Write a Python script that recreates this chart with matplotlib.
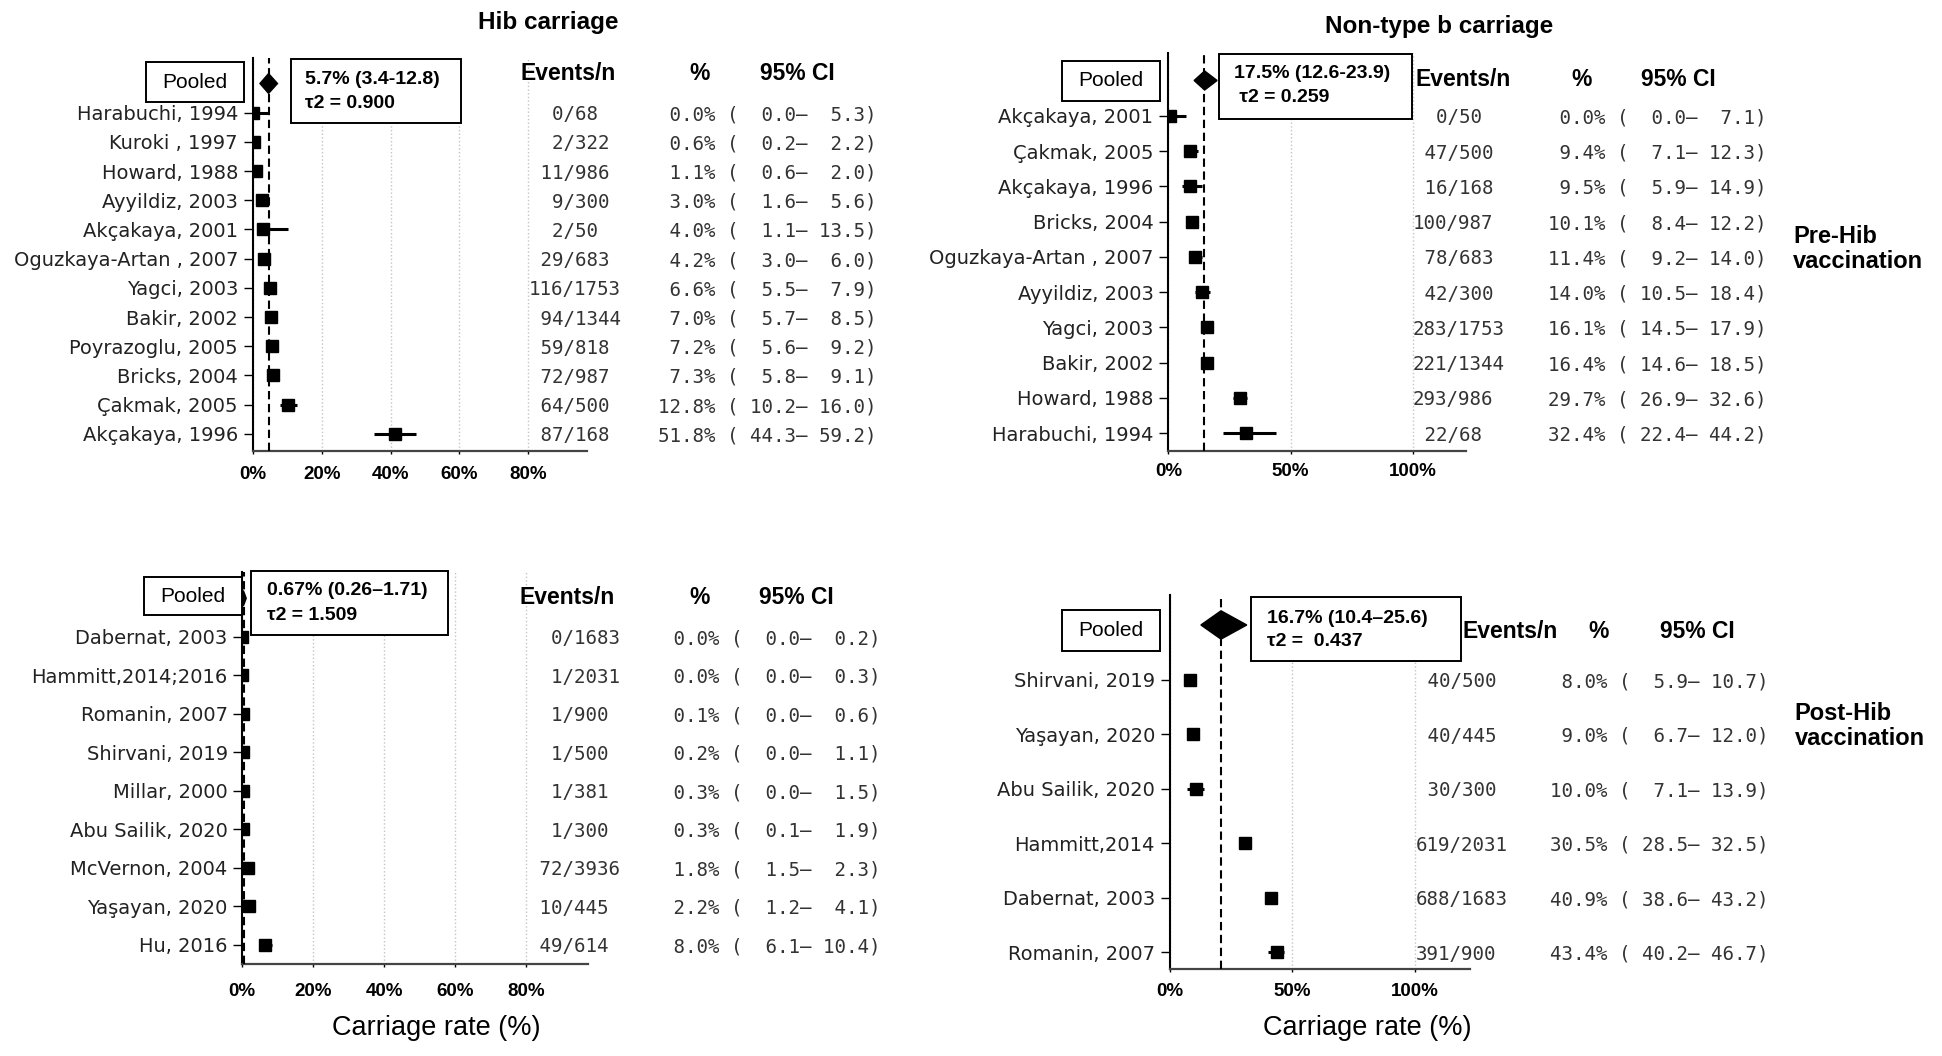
import matplotlib
matplotlib.use("Agg")
import matplotlib.pyplot as plt
from matplotlib.patches import Rectangle, Polygon
from matplotlib.transforms import blended_transform_factory
import numpy as np

# ---------------- data ----------------
# Panel A: Hib carriage, pre-Hib vaccination
hib_pre_studies = ["Harabuchi, 1994", "Kuroki , 1997", "Howard, 1988", "Ayyildiz, 2003",
                   "Akçakaya, 2001", "Oguzkaya-Artan , 2007", "Yagci, 2003", "Bakir, 2002",
                   "Poyrazoglu, 2005", "Bricks, 2004", "Çakmak, 2005", "Akçakaya, 1996"]
hib_pre_events = [0, 2, 11, 9, 2, 29, 116, 94, 59, 72, 64, 87]
hib_pre_n = [68, 322, 986, 300, 50, 683, 1753, 1344, 818, 987, 500, 168]
hib_pre_pct = [0.0, 0.6, 1.1, 3.0, 4.0, 4.2, 6.6, 7.0, 7.2, 7.3, 12.8, 51.8]
hib_pre_lo = [0.0, 0.2, 0.6, 1.6, 1.1, 3.0, 5.5, 5.7, 5.6, 5.8, 10.2, 44.3]
hib_pre_hi = [5.3, 2.2, 2.0, 5.6, 13.5, 6.0, 7.9, 8.5, 9.2, 9.1, 16.0, 59.2]
# positions of the marks as drawn on the axis
hib_pre_mark = [0.0, 0.4, 0.9, 2.6, 2.8, 3.2, 5.0, 5.2, 5.5, 5.7, 10.1, 41.4]
hib_pre_mark_lo = [0.0, 0.2, 0.5, 1.2, 1.0, 2.3, 4.3, 4.4, 4.3, 4.5, 7.9, 35.3]
hib_pre_mark_hi = [4.4, 1.7, 1.6, 4.4, 10.2, 4.7, 6.2, 6.6, 7.1, 7.1, 12.7, 47.3]
hib_pre_pooled_text = "5.7% (3.4-12.8)"
hib_pre_tau_text = "τ2 = 0.900"
hib_pre_pooled_mark = [2.0, 4.5, 7.1]   # lo, centre, hi of the diamond
hib_pre_refline = 4.6

# Panel B: non-type b carriage, pre-Hib vaccination
ntb_pre_studies = ["Akçakaya, 2001", "Çakmak, 2005", "Akçakaya, 1996", "Bricks, 2004",
                   "Oguzkaya-Artan , 2007", "Ayyildiz, 2003", "Yagci, 2003", "Bakir, 2002",
                   "Howard, 1988", "Harabuchi, 1994"]
ntb_pre_events = [0, 47, 16, 100, 78, 42, 283, 221, 293, 22]
ntb_pre_n = [50, 500, 168, 987, 683, 300, 1753, 1344, 986, 68]
ntb_pre_pct = [0.0, 9.4, 9.5, 10.1, 11.4, 14.0, 16.1, 16.4, 29.7, 32.4]
ntb_pre_lo = [0.0, 7.1, 5.9, 8.4, 9.2, 10.5, 14.5, 14.6, 26.9, 22.4]
ntb_pre_hi = [7.1, 12.3, 14.9, 12.2, 14.0, 18.4, 17.9, 18.5, 32.6, 44.2]
ntb_pre_mark = [0.5, 8.8, 9.0, 9.8, 10.8, 13.8, 15.8, 15.8, 29.2, 31.8]
ntb_pre_mark_lo = [0.0, 7.0, 5.7, 8.3, 9.0, 10.8, 14.2, 14.3, 26.5, 22.2]
ntb_pre_mark_hi = [7.0, 12.0, 13.8, 11.8, 13.6, 17.1, 17.5, 18.1, 32.0, 44.1]
ntb_pre_pooled_text = "17.5% (12.6-23.9)"
ntb_pre_tau_text = " τ2 = 0.259"
ntb_pre_pooled_mark = [10.5, 14.8, 19.9]
ntb_pre_refline = 14.6

# Panel C: Hib carriage, post-Hib vaccination
hib_post_studies = ["Dabernat, 2003", "Hammitt,2014;2016", "Romanin, 2007", "Shirvani, 2019",
                    "Millar, 2000", "Abu Sailik, 2020", "McVernon, 2004", "Yaşayan, 2020",
                    "Hu, 2016"]
hib_post_events = [0, 1, 1, 1, 1, 1, 72, 10, 49]
hib_post_n = [1683, 2031, 900, 500, 381, 300, 3936, 445, 614]
hib_post_pct = [0.0, 0.0, 0.1, 0.2, 0.3, 0.3, 1.8, 2.2, 8.0]
hib_post_lo = [0.0, 0.0, 0.0, 0.0, 0.0, 0.1, 1.5, 1.2, 6.1]
hib_post_hi = [0.2, 0.3, 0.6, 1.1, 1.5, 1.9, 2.3, 4.1, 10.4]
hib_post_mark = [0.0, 0.0, 0.1, 0.2, 0.2, 0.3, 1.6, 2.0, 6.5]
hib_post_mark_lo = [0.0, 0.0, 0.0, 0.0, 0.0, 0.1, 1.3, 1.0, 5.0]
hib_post_mark_hi = [0.2, 0.3, 0.5, 0.9, 1.2, 1.6, 2.0, 3.4, 8.5]
hib_post_pooled_text = "0.67% (0.26–1.71)"
hib_post_tau_text = "τ2 = 1.509"
hib_post_pooled_mark = [-0.5, 0.3, 1.1]
hib_post_refline = 0.6

# Panel D: non-type b carriage, post-Hib vaccination
ntb_post_studies = ["Shirvani, 2019", "Yaşayan, 2020", "Abu Sailik, 2020", "Hammitt,2014",
                    "Dabernat, 2003", "Romanin, 2007"]
ntb_post_events = [40, 40, 30, 619, 688, 391]
ntb_post_n = [500, 445, 300, 2031, 1683, 900]
ntb_post_pct = [8.0, 9.0, 10.0, 30.5, 40.9, 43.4]
ntb_post_lo = [5.9, 6.7, 7.1, 28.5, 38.6, 40.2]
ntb_post_hi = [10.7, 12.0, 13.9, 32.5, 43.2, 46.7]
ntb_post_mark = [8.5, 9.6, 10.6, 30.7, 41.3, 43.7]
ntb_post_mark_lo = [6.3, 7.0, 7.3, 28.7, 39.0, 40.3]
ntb_post_mark_hi = [10.8, 12.0, 14.1, 32.6, 43.3, 46.8]
ntb_post_pooled_text = "16.7% (10.4–25.6)"
ntb_post_tau_text = "τ2 =  0.437"
ntb_post_pooled_mark = [12.8, 21.0, 31.5]
ntb_post_refline = 20.9

left_ticks = [0, 20, 40, 60, 80]
left_ticklabels = ["0%", "20%", "40%", "60%", "80%"]
right_ticks = [0, 50, 100]
right_ticklabels = ["0%", "50%", "100%"]

# ---------------- figure ----------------
W, H = 1942, 1056
fig = plt.figure(figsize=(W / 100, H / 100), dpi=100)
fig.patch.set_facecolor("white")

SANS = "Liberation Sans"
MONO = "DejaVu Sans Mono"
LAB = "DejaVu Sans"


def fx(p):
    return p / W


def fy(p):
    return 1 - p / H


def box(x0, y0, x1, y1):
    r = Rectangle((fx(x0), fy(y1)), (x1 - x0) / W, (y1 - y0) / H,
                  transform=fig.transFigure, facecolor="white",
                  edgecolor="black", lw=1.4, zorder=5)
    fig.add_artist(r)


def panel(L, studies, events, n, pct, lo, hi, mark, mlo, mhi,
          ptext, ttext, pmark, refline, ticks, ticklabels):
    x0, y0, x1, y1 = L["ax"]
    ax = fig.add_axes([fx(x0), fy(y1), (x1 - x0) / W, (y1 - y0) / H])
    rows = np.arange(1, len(studies) + 1)
    ax.hlines(rows, mlo, mhi, color="black", lw=2.2, zorder=3)
    ax.plot(mark, rows, "s", color="black", ms=8.2, zorder=4)
    lo_d, c_d, hi_d = pmark
    h = L["dh"]
    ax.add_patch(Polygon([(lo_d, 0), (c_d, -h), (hi_d, 0), (c_d, h)],
                         closed=True, facecolor="black", edgecolor="black", zorder=4))
    ax.axvline(refline, color="black", ls=(0, (4, 2.2)), lw=1.5, zorder=3)
    ax.set_xlim(*L["xlim"])
    ax.set_ylim(*L["ylim"])
    ax.set_yticks(rows)
    ax.set_yticklabels(studies, family=LAB, fontsize=14, color="#222222")
    ax.set_xticks(ticks)
    ax.set_xticklabels(ticklabels, family=SANS, fontweight="bold", fontsize=13.5)
    ax.grid(axis="x", ls=":", color="#c4c4c4", lw=1.0, zorder=0)
    ax.set_axisbelow(True)
    for s in ("top", "right"):
        ax.spines[s].set_visible(False)
    ax.spines["left"].set_color("black")
    ax.spines["left"].set_linewidth(1.5)
    ax.spines["bottom"].set_color("#444444")
    ax.spines["bottom"].set_linewidth(1.6)
    ax.tick_params(axis="y", length=6.5, width=1.0, pad=4)
    ax.tick_params(axis="x", length=2.5, width=1.0, pad=L["xpad"])

    trans = blended_transform_factory(fig.transFigure, ax.transData)
    for i, r in enumerate(rows):
        ax.text(fx(L["ev_x"]), r, f"{events[i]:>3}/{n[i]}", transform=trans,
                family=MONO, fontsize=13.8, ha="left", va="center_baseline",
                color="#333333", clip_on=False)
        ax.text(fx(L["st_x"]), r, f"{pct[i]:4.1f}% ({lo[i]:5.1f}–{hi[i]:5.1f})",
                transform=trans, family=MONO, fontsize=13.8, ha="left",
                va="center_baseline", color="#333333", clip_on=False)

    hy = L["head_y"]
    for xh, tx in zip(L["head_x"], ["Events/n", "%", "95% CI"]):
        fig.text(fx(xh), fy(hy), tx, family=SANS, fontweight="bold", fontsize=16.5,
                 ha="center", va="center", zorder=7)

    bx = L["pbox"]
    box(*bx)
    fig.text(fx((bx[0] + bx[2]) / 2), fy((bx[1] + bx[3]) / 2), "Pooled", family=SANS,
             fontsize=15, ha="center", va="center", zorder=7)
    ab = L["abox"]
    box(*ab)
    tx0, ty1, ty2 = L["atext"]
    fig.text(fx(tx0), fy(ty1), ptext, family=SANS, fontweight="bold", fontsize=14,
             ha="left", va="center", zorder=7)
    fig.text(fx(tx0), fy(ty2), ttext, family=SANS, fontweight="bold", fontsize=14,
             ha="left", va="center", zorder=7)
    return ax


TL = dict(ax=(252.5, 58.3, 587, 451), xlim=(-0.17, 97.1), ylim=(12.586, -0.863),
          dh=0.34, xpad=8, ev_x=528.7, st_x=658.4, head_y=73.3, head_x=(568, 700, 797.5),
          pbox=(146, 62.3, 244, 102.3), abox=(291, 59, 460.7, 123.3),
          atext=(305, 80, 103.3))
TR = dict(ax=(1168, 53, 1466, 451), xlim=(-0.2, 121.8), ylim=(10.51, -0.78),
          dh=0.27, xpad=6, ev_x=1412.5, st_x=1547.7, head_y=80, head_x=(1463, 1581.7, 1678),
          pbox=(1062, 61, 1160, 101), abox=(1219, 54, 1412, 119),
          atext=(1234, 74, 97))
BL = dict(ax=(242.3, 571.7, 588, 964), xlim=(0.08, 97.5), ylim=(9.5, -0.69),
          dh=0.2, xpad=11, ev_x=528, st_x=661.5, head_y=597, head_x=(567, 700, 796),
          pbox=(144, 577.3, 242.3, 615), abox=(251, 571, 448.3, 635),
          atext=(266.7, 590.7, 615))
BR = dict(ax=(1169.5, 595, 1469.5, 969), xlim=(0.4, 122.3), ylim=(6.31, -0.55),
          dh=0.26, xpad=7.5, ev_x=1415.6, st_x=1550, head_y=632, head_x=(1510, 1599, 1697),
          pbox=(1061.7, 610, 1160, 650.7), abox=(1251, 596.7, 1460.7, 660.7),
          atext=(1267.3, 618.3, 641.7))

panel(TL, hib_pre_studies, hib_pre_events, hib_pre_n, hib_pre_pct, hib_pre_lo, hib_pre_hi,
      hib_pre_mark, hib_pre_mark_lo, hib_pre_mark_hi, hib_pre_pooled_text, hib_pre_tau_text,
      hib_pre_pooled_mark, hib_pre_refline, left_ticks, left_ticklabels)
panel(TR, ntb_pre_studies, ntb_pre_events, ntb_pre_n, ntb_pre_pct, ntb_pre_lo, ntb_pre_hi,
      ntb_pre_mark, ntb_pre_mark_lo, ntb_pre_mark_hi, ntb_pre_pooled_text, ntb_pre_tau_text,
      ntb_pre_pooled_mark, ntb_pre_refline, right_ticks, right_ticklabels)
panel(BL, hib_post_studies, hib_post_events, hib_post_n, hib_post_pct, hib_post_lo, hib_post_hi,
      hib_post_mark, hib_post_mark_lo, hib_post_mark_hi, hib_post_pooled_text, hib_post_tau_text,
      hib_post_pooled_mark, hib_post_refline, left_ticks, left_ticklabels)
panel(BR, ntb_post_studies, ntb_post_events, ntb_post_n, ntb_post_pct, ntb_post_lo, ntb_post_hi,
      ntb_post_mark, ntb_post_mark_lo, ntb_post_mark_hi, ntb_post_pooled_text, ntb_post_tau_text,
      ntb_post_pooled_mark, ntb_post_refline, right_ticks, right_ticklabels)

# titles, side labels, axis labels
fig.text(fx(548.5), fy(23), "Hib carriage", family=SANS, fontweight="bold", fontsize=17.5,
         ha="center", va="center")
fig.text(fx(1439), fy(27), "Non-type b carriage", family=SANS, fontweight="bold",
         fontsize=17.5, ha="center", va="center")
fig.text(fx(1793), fy(249), "Pre-Hib\nvaccination", family=SANS, fontweight="bold",
         fontsize=17, ha="left", va="center", linespacing=1.15)
fig.text(fx(1794.5), fy(726), "Post-Hib\nvaccination", family=SANS, fontweight="bold",
         fontsize=17, ha="left", va="center", linespacing=1.15)
fig.text(fx(436.5), fy(1028), "Carriage rate (%)", family=SANS, fontsize=19.5,
         ha="center", va="center")
fig.text(fx(1367), fy(1028), "Carriage rate (%)", family=SANS, fontsize=19.5,
         ha="center", va="center")

fig.savefig("out.png", dpi=100, facecolor="white")
